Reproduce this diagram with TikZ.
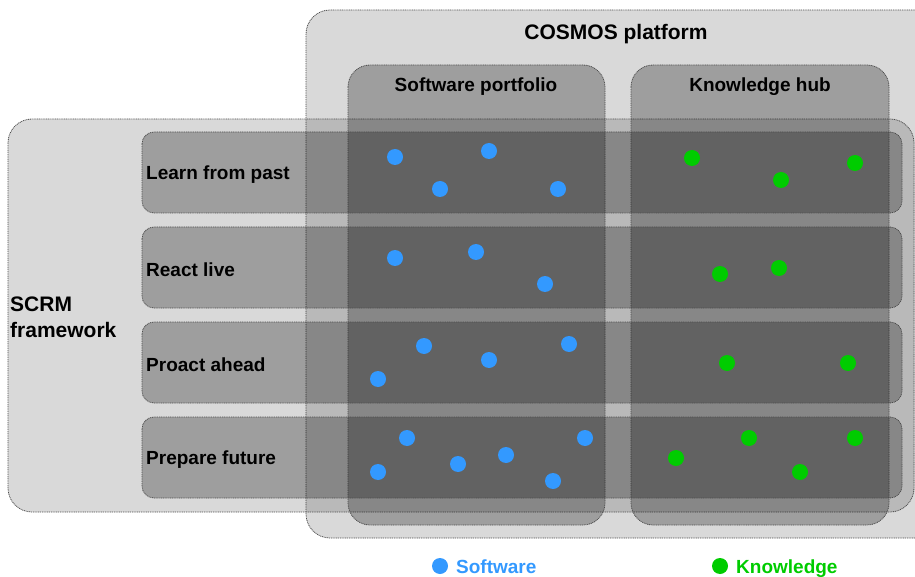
\documentclass[tikz,border=0pt]{standalone}
\usepackage{fontspec}
\setmainfont{Liberation Sans}
\usepackage{tikz}
\usetikzlibrary{positioning}
\definecolor{swblue}{HTML}{3399FF}
\definecolor{khgreen}{HTML}{00CC00}
\definecolor{edgegray}{HTML}{4D4D4D}

\tikzset{
	outerbox/.style={draw=edgegray, dash pattern=on 1pt off 0.8pt, line width=0.8pt, fill=black, fill opacity=0.15, rounded corners=24pt},
	colbox/.style={draw=edgegray, dash pattern=on 1pt off 0.8pt, line width=0.8pt, fill=black, fill opacity=0.27, rounded corners=22pt},
	rowbox/.style={draw=edgegray, dash pattern=on 1pt off 0.8pt, line width=0.8pt, fill=black, fill opacity=0.27, rounded corners=12pt},
	biglabel/.style={font=\bfseries\fontsize{21}{26}\selectfont, inner sep=0pt},
	boxlabel/.style={font=\bfseries\fontsize{19}{22}\selectfont, inner sep=0pt},
}

\begin{document}
\begin{tikzpicture}[x=1pt, y=-1pt]
\useasboundingbox (0,0) rectangle (915,577);

% platform and framework
\draw[outerbox] (306,10) rectangle (940,538);
\draw[outerbox] (8,119) rectangle (914,512);

% columns
\draw[colbox] (348,65) rectangle (605,525);
\draw[colbox] (631,65) rectangle (889,525);

% rows
\foreach \y in {132,227,322,417}
	\draw[rowbox] (142,\y) rectangle (902,\y+81);

\node[biglabel] (cosmos) at (616,34) {COSMOS platform};
\node[boxlabel] (software) at (476,87) {Software portfolio};
\node[boxlabel] (knowledge) at (760,87) {Knowledge hub};
\node[biglabel, anchor=west, align=left] (scrm) at (10,317) {SCRM\\framework};

\node[boxlabel, anchor=west] (learn) at (146,175) {Learn from past};
\node[boxlabel, anchor=west] (react) at (146,270) {React live};
\node[boxlabel, anchor=west] (proact) at (146,365) {Proact ahead};
\node[boxlabel, anchor=west] (prepare) at (146,460) {Prepare future};

% software dots
\foreach \x/\y in {395/157, 489/151, 440/189, 558/189,
	395/258, 476/252, 545/284,
	424/346, 489/360, 569/344, 378/379,
	407/438, 378/472, 458/464, 506/455, 553/481, 585/438}
	\fill[swblue] (\x,\y) circle (8pt);

% knowledge dots
\foreach \x/\y in {692/158, 781/180, 855/163,
	720/274, 779/268,
	727/363, 848/363,
	676/458, 749/438, 800/472, 855/438}
	\fill[khgreen] (\x,\y) circle (8pt);

% legend
\fill[swblue] (440,566) circle (8pt);
\node[boxlabel, text=swblue, anchor=base west] (swlegend) at (456,573) {Software};
\fill[khgreen] (720,566) circle (8pt);
\node[boxlabel, text=khgreen, anchor=base west] (khlegend) at (736,573) {Knowledge};

\end{tikzpicture}
\end{document}
